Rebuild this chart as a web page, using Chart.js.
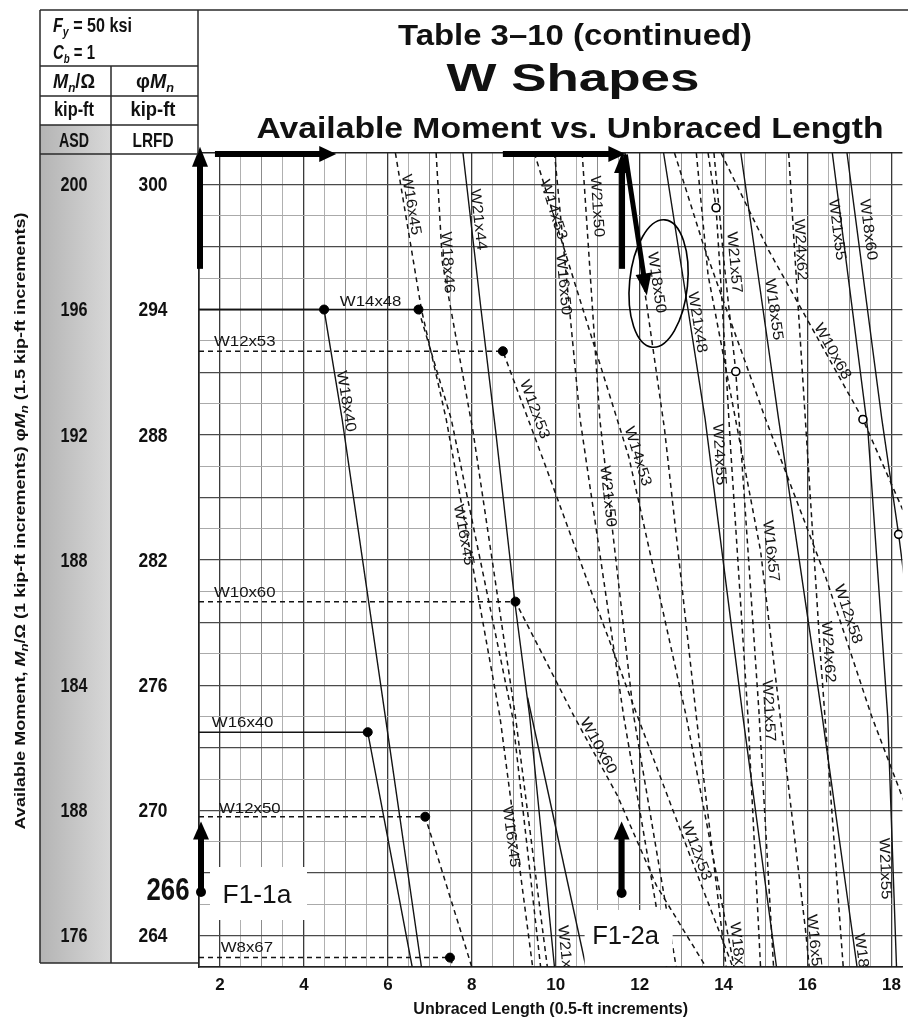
<!DOCTYPE html>
<html>
<head>
<meta charset="utf-8">
<script src="https://cdn.jsdelivr.net/npm/chart.js@4.4.1/dist/chart.umd.min.js"></script>
<style>
  html, body { margin: 0; padding: 0; background: #fff; }
  canvas { display: block; }
</style>
</head>
<body>
<canvas id="c" width="908" height="1021"></canvas>
<script>
// unbraced length (ft) vs available moment Mn/Omega (ASD, kip-ft)
const W18x40 = [[1.5,196],[4.48,196],[4.91,192.5],[5.95,182.9],[6.8,175]];
const W14x48 = [[1.5,196],[6.73,196],[7.51,192.5],[8.97,183],[9.64,175]];
const W16x45 = [[6.18,201],[6.8,196],[7.39,192.5],[8.67,183],[9.45,175]];
const W18x46 = [[7.15,201],[7.3,197.5],[8.03,192.1],[9.04,183],[9.8,175]];
const W21x44 = [[7.79,201],[8.22,196],[8.57,192.1],[9.04,186.5],[9.38,183],[9.97,175]];
const W21x44b = [[9.33,183.6],[10.72,175]];
const W16x40 = [[1.5,182.5],[5.52,182.5],[6.58,175]];
const W12x50 = [[1.5,179.8],[6.89,179.8],[8.0,175]];
const W8x67 = [[1.5,175.3],[7.48,175.3],[7.56,175]];
const W12x53 = [[1.5,194.67],[8.74,194.67],[9.73,191.1],[10.98,186.5],[11.95,183],[13.16,178.7],[14.22,175]];
const W10x60 = [[1.5,186.67],[9.04,186.67],[10.44,183],[11.46,180.5],[12.4,177.6],[13.58,175]];
const W14x53 = [[9.49,201],[11.74,191.3],[13.11,183],[14.25,175]];
const W16x50 = [[9.97,201],[10.58,192.5],[11.62,183],[12.64,175]];
const W21x50 = [[10.63,201],[11.05,192.5],[11.86,183],[12.87,175]];
const W18x50 = [[11.65,201],[12.59,192.2],[13.35,183],[14.06,175]];
const W21x48 = [[12.57,201],[13.56,192.5],[14.46,183],[15.26,175]];
const W12x58 = [[12.83,201],[13.51,198.1],[15.0,192.5],[16.42,187.5],[17.53,183],[18.55,179.4]];
const W16x57 = [[13.35,201],[13.63,197.1],[14.88,188.3],[15.95,176.2],[16.04,175]];
const W24x55 = [[13.63,201],[13.82,199.25],[13.96,196.3],[14.17,191.5],[14.58,183],[14.88,175]];
const W21x57 = [[13.77,201],[14.01,197.5],[14.29,194.02],[14.84,183.2],[15.19,175]];
const W10x68 = [[13.94,201],[15.07,197.9],[17.32,192.49],[18.27,189.6]];
const W18x55 = [[14.41,201],[15.31,192.5],[16.35,183],[17.18,175]];
const W24x62 = [[15.55,201],[15.69,197.9],[16.3,185.1],[16.85,175]];
const W21x55 = [[16.59,201],[17.44,192.1],[17.91,183],[18.12,175]];
const W18x60 = [[16.94,201],[17.77,192.5],[18.17,188.82],[18.43,186.1]];

const lpDots = [[4.48,196],[6.73,196],[8.74,194.67],[9.04,186.67],[5.52,182.5],[6.89,179.8],[7.48,175.3]];
const lrCircles = [[13.82,199.25],[14.29,194.02],[17.32,192.49],[18.17,188.82]];

const asdTickVals = [176,180,184,188,192,196,200];
const asdTickText = ['176','188','184','188','192','196','200'];
const lrfdTickText = ['264','270','276','282','288','294','300'];

// 266 kip-ft LRFD = 177.33 ASD, pointing to the 270 line
const markerY = 177.33;
const markerTipY = 179.65;
const markerX1 = 1.5;
const markerX2 = 11.57;

// solid / dashed / solid plateau with dashed slope
const lineDefs = [
  [W18x40,'solid'],[W14x48,'slope'],[W16x45,'dash'],[W18x46,'dash'],[W21x44,'solid'],[W21x44b,'solid'],
  [W16x40,'solid'],[W12x50,'dash'],[W8x67,'dash'],[W12x53,'dash'],[W10x60,'dash'],[W14x53,'dash'],
  [W16x50,'dash'],[W21x50,'dash'],[W18x50,'dash'],[W21x48,'solid'],[W12x58,'dash'],[W16x57,'dash'],
  [W24x55,'dash'],[W21x57,'dash'],[W10x68,'dash'],[W18x55,'solid'],[W24x62,'dash'],[W21x55,'solid'],[W18x60,'solid']
];

const lineLabels = [
  ['W14x48',5.59,196.26,null],['W12x53',2.59,194.96,null],['W10x60',2.59,186.96,null],
  ['W16x40',2.54,182.8,null],['W12x50',2.71,180.06,null],['W8x67',2.64,175.6,null],
  ['W18x40',5.0,193.07,W18x40],['W16x45',6.55,199.35,W16x45],['W16x45',7.8,188.8,W16x45],['W16x45',8.93,179.16,W16x45],
  ['W18x46',7.42,197.5,W18x46],['W21x44',8.15,198.87,W21x44],['W21x44',10.23,175.35,W21x44],
  ['W14x53',9.94,199.19,W14x53],['W14x53',11.95,191.31,W14x53],['W21x50',10.98,199.29,W21x50],['W21x50',11.24,190.03,W21x50],
  ['W16x50',10.18,196.8,W16x50],['W12x53',9.49,192.81,W12x53],['W12x53',13.35,178.71,W12x53],['W10x60',11.01,182.06,W10x60],
  ['W18x50',12.4,196.86,W18x50],['W18x50',14.34,175.45,W18x50],['W21x48',13.37,195.59,W21x48],['W24x55',13.89,191.37,W24x55],
  ['W21x57',14.25,197.5,W21x57],['W21x57',15.07,183.18,W21x57],['W18x55',15.19,196.0,W18x55],['W18x55',17.32,175.1,W18x55],
  ['W24x62',15.83,197.91,W24x62],['W24x62',16.49,185.06,W24x62],['W21x55',16.7,198.55,W21x55],['W21x55',17.84,178.14,W21x55],
  ['W18x60',17.44,198.55,W18x60],['W10x68',16.59,194.66,W10x68],['W16x57',15.12,188.28,W16x57],['W16x57',16.16,175.7,W16x57],
  ['W12x58',16.96,186.27,W12x58]
];

const SANS = '"Liberation Sans", Arial, Helvetica, sans-serif';
const INK = '#111';

function toXY(arr) { return arr.map(function (p) { return { x: p[0], y: p[1] }; }); }

const datasets = [];
datasets.push({ data: toXY(lpDots), pointRadius: 4.5, pointBackgroundColor: '#000', pointBorderColor: '#000', showLine: false, order: -2 });
datasets.push({ data: toXY(lrCircles), pointRadius: 4, pointBackgroundColor: '#fff', pointBorderColor: '#000', pointBorderWidth: 1.6, showLine: false, order: -2 });
lineDefs.forEach(function (d) {
  const style = d[1];
  datasets.push({
    data: toXY(d[0]),
    showLine: true,
    pointRadius: 0,
    borderColor: '#141414',
    borderWidth: style === 'solid' ? 1.4 : 1.5,
    fill: false,
    tension: 0,
    order: 0,
    segment: {
      borderDash: function (c) {
        if (style === 'dash') return [5, 4];
        if (style === 'slope' && c.p0.parsed.y !== c.p1.parsed.y) return [5, 4];
        return undefined;
      }
    }
  });
});

function fitText(ctx, s, cx, cy, font, w) {
  ctx.save();
  ctx.font = font; ctx.textAlign = 'center'; ctx.textBaseline = 'middle'; ctx.fillStyle = INK;
  const m = ctx.measureText(s).width;
  ctx.translate(cx, cy); ctx.scale(w ? w / m : 1, 1);
  ctx.fillText(s, 0, 0);
  ctx.restore();
}

function drawRich(ctx, parts, x, y, opt) {
  ctx.save();
  ctx.fillStyle = INK; ctx.textBaseline = 'alphabetic'; ctx.textAlign = 'left';
  let w = 0;
  parts.forEach(function (p) { ctx.font = p.f; p.w = ctx.measureText(p.t).width; w += p.w; });
  const k = opt.width ? opt.width / w : 1;
  ctx.translate(x, y);
  if (opt.rot) ctx.rotate(opt.rot);
  ctx.scale(k, 1);
  let cx = opt.align === 'center' ? -w / 2 : 0;
  parts.forEach(function (p) { ctx.font = p.f; ctx.fillText(p.t, cx, p.dy || 0); cx += p.w; });
  ctx.restore();
}

function arrow(ctx, x0, y0, x1, y1, w, hl, hw) {
  const a = Math.atan2(y1 - y0, x1 - x0);
  const len = Math.hypot(x1 - x0, y1 - y0);
  ctx.save();
  ctx.translate(x0, y0); ctx.rotate(a);
  ctx.fillStyle = '#000';
  ctx.fillRect(0, -w / 2, len - hl + 1, w);
  ctx.beginPath();
  ctx.moveTo(len, 0); ctx.lineTo(len - hl, -hw); ctx.lineTo(len - hl, hw); ctx.closePath();
  ctx.fill();
  ctx.restore();
}

function angleOn(pts, yv, xs, ys) {
  let last = 0;
  for (let i = 0; i < pts.length - 1; i++) {
    const a = pts[i], b = pts[i + 1];
    if (a[1] === b[1]) continue;
    last = Math.atan2(ys.getPixelForValue(b[1]) - ys.getPixelForValue(a[1]), xs.getPixelForValue(b[0]) - xs.getPixelForValue(a[0]));
    if (yv <= Math.max(a[1], b[1]) + 0.01 && yv >= Math.min(a[1], b[1]) - 0.01) return last;
  }
  return last;
}

const decor = {
  id: 'decor',
  beforeDraw: function (chart) {
    const ctx = chart.ctx;
    ctx.save();
    ctx.fillStyle = '#fff';
    ctx.fillRect(0, 0, chart.width, chart.height);
    const g = ctx.createLinearGradient(40, 0, 111, 0);
    g.addColorStop(0, '#b4b4b4');
    g.addColorStop(1, '#d8d8d8');
    ctx.fillStyle = g;
    ctx.fillRect(40, 125, 71, 838);
    ctx.restore();
  },
  afterDatasetsDraw: function (chart) {
    const ctx = chart.ctx, xs = chart.scales.x, ys = chart.scales.y, area = chart.chartArea;
    // curve labels
    ctx.save();
    ctx.beginPath(); ctx.rect(area.left, area.top, area.right - area.left, area.bottom - area.top); ctx.clip();
    ctx.fillStyle = '#151515';
    ctx.font = '15px ' + SANS; ctx.textAlign = 'center'; ctx.textBaseline = 'middle';
    lineLabels.forEach(function (l) {
      const px = xs.getPixelForValue(l[1]), py = ys.getPixelForValue(l[2]);
      const ang = l[3] ? angleOn(l[3], l[2], xs, ys) : 0;
      ctx.save(); ctx.translate(px, py); ctx.rotate(ang); ctx.scale(1.12, 1);
      ctx.fillText(l[0], 0, 0);
      ctx.restore();
    });
    ctx.restore();

    // hand-drawn markings
    const xl = xs.getPixelForValue(markerX1);
    const top = ys.getPixelForValue(201);
    arrow(ctx, xl + 1, ys.getPixelForValue(197.3), xl + 1, ys.getPixelForValue(201.2), 6, 20, 8);
    arrow(ctx, xs.getPixelForValue(1.88), top + 1, xs.getPixelForValue(4.77), top + 1, 6, 17, 8);
    arrow(ctx, xs.getPixelForValue(8.74), top + 1, xs.getPixelForValue(11.66), top + 1, 6, 17, 8);
    arrow(ctx, xs.getPixelForValue(11.58), ys.getPixelForValue(197.3), xs.getPixelForValue(11.58), top, 6, 20, 8);
    arrow(ctx, xs.getPixelForValue(11.66), ys.getPixelForValue(200.95), xs.getPixelForValue(12.17), ys.getPixelForValue(196.45), 5, 22, 8);
    ctx.save();
    ctx.strokeStyle = '#000'; ctx.lineWidth = 1.6;
    ctx.beginPath();
    ctx.ellipse(xs.getPixelForValue(12.45), ys.getPixelForValue(196.83), 29, 64, 0.1, 0, Math.PI * 2);
    ctx.stroke();
    ctx.restore();

    // F1-1a / F1-2a
    const y0 = ys.getPixelForValue(markerY), y1 = ys.getPixelForValue(markerTipY);
    const x2 = xs.getPixelForValue(markerX2);
    ctx.save();
    ctx.fillStyle = '#fff';
    ctx.fillRect(210, 867, 97, 53);
    ctx.fillRect(x2 - 37, 910, 88, 56);
    ctx.fillStyle = '#000';
    ctx.beginPath(); ctx.arc(xl + 2, y0 - 2, 5, 0, Math.PI * 2); ctx.fill();
    ctx.beginPath(); ctx.arc(x2, y0 - 1, 5, 0, Math.PI * 2); ctx.fill();
    ctx.restore();
    arrow(ctx, xl + 2, y0 - 2, xl + 2, y1, 6, 18, 8);
    arrow(ctx, x2, y0 - 1, x2, y1, 6, 18, 8);
    fitText(ctx, 'F1-1a', 257, 896, '26px ' + SANS, 69);
    fitText(ctx, 'F1-2a', x2 + 4, 937, '26px ' + SANS, 67);
    fitText(ctx, '266', 168, y0 - 3, 'bold 32px ' + SANS, 43);
  },
  afterDraw: function (chart) {
    const ctx = chart.ctx, ys = chart.scales.y;
    ctx.save();
    ctx.strokeStyle = '#2a2a2a'; ctx.lineWidth = 1.5;
    ctx.beginPath();
    ctx.moveTo(40, 10); ctx.lineTo(908, 10);
    ctx.moveTo(40, 10); ctx.lineTo(40, 963);
    ctx.moveTo(198, 10); ctx.lineTo(198, 153);
    [66, 96, 125, 154].forEach(function (y) { ctx.moveTo(40, y); ctx.lineTo(198, y); });
    ctx.moveTo(111, 66); ctx.lineTo(111, 963);
    ctx.moveTo(40, 963); ctx.lineTo(198, 963);
    ctx.stroke();
    ctx.restore();

    const B = 'bold ';
    const BI = 'bold italic ';
    drawRich(ctx, [
      { t: 'F', f: BI + '20px ' + SANS }, { t: 'y', f: BI + '13px ' + SANS, dy: 4 },
      { t: ' = 50 ksi', f: B + '20px ' + SANS }
    ], 53, 32, { width: 79 });
    drawRich(ctx, [
      { t: 'C', f: BI + '20px ' + SANS }, { t: 'b', f: BI + '13px ' + SANS, dy: 4 },
      { t: ' = 1', f: B + '20px ' + SANS }
    ], 53, 59, { width: 42 });
    drawRich(ctx, [
      { t: 'M', f: BI + '20px ' + SANS }, { t: 'n', f: BI + '13px ' + SANS, dy: 4 },
      { t: '/\u03A9', f: B + '20px ' + SANS }
    ], 74, 88, { width: 42, align: 'center' });
    drawRich(ctx, [
      { t: '\u03C6', f: B + '20px ' + SANS }, { t: 'M', f: BI + '20px ' + SANS },
      { t: 'n', f: BI + '13px ' + SANS, dy: 4 }
    ], 155, 88, { width: 38, align: 'center' });
    fitText(ctx, 'kip-ft', 74, 110, B + '20px ' + SANS, 40);
    fitText(ctx, 'kip-ft', 153, 110, B + '20px ' + SANS, 45);
    fitText(ctx, 'ASD', 74, 141, B + '20px ' + SANS, 30);
    fitText(ctx, 'LRFD', 153, 141, B + '20px ' + SANS, 41);

    asdTickVals.forEach(function (v, i) {
      const py = ys.getPixelForValue(v);
      fitText(ctx, asdTickText[i], 74, py + 1, B + '21px ' + SANS, 27);
      fitText(ctx, lrfdTickText[i], 153, py + 1, B + '21px ' + SANS, 29);
    });

    fitText(ctx, 'Table 3\u201310 (continued)', 575, 37, B + '30px ' + SANS, 354);
    fitText(ctx, 'W Shapes', 573, 80, B + '39px ' + SANS, 253);
    fitText(ctx, 'Available Moment vs. Unbraced Length', 570, 130, B + '30px ' + SANS, 627);

    drawRich(ctx, [
      { t: 'Available Moment, ', f: B + '15px ' + SANS },
      { t: 'M', f: BI + '15px ' + SANS }, { t: 'n', f: BI + '11px ' + SANS, dy: 3 },
      { t: '/\u03A9 (1 kip-ft increments) ', f: B + '15px ' + SANS },
      { t: '\u03C6', f: B + '15px ' + SANS }, { t: 'M', f: BI + '15px ' + SANS },
      { t: 'n', f: BI + '11px ' + SANS, dy: 3 },
      { t: ' (1.5 kip-ft increments)', f: B + '15px ' + SANS }
    ], 25, 521, { width: 617, align: 'center', rot: -Math.PI / 2 });
  }
};

function isMult(v, m) { return Math.abs(v / m - Math.round(v / m)) < 1e-6; }

new Chart(document.getElementById('c'), {
  type: 'scatter',
  data: { datasets: datasets },
  options: {
    responsive: false,
    animation: false,
    devicePixelRatio: 1,
    events: [],
    layout: { padding: { left: 199, top: 153, right: 0, bottom: 0 } },
    plugins: { legend: { display: false }, tooltip: { enabled: false } },
    scales: {
      x: {
        type: 'linear', min: 1.5, max: 18.26,
        ticks: {
          stepSize: 0.5, autoSkip: false, maxRotation: 0, includeBounds: false, padding: 8,
          color: INK, font: { family: SANS, size: 17, weight: 'bold' },
          callback: function (v) { return isMult(v, 2) ? String(Math.round(v)) : ''; }
        },
        grid: {
          drawTicks: false,
          color: function (c) { const v = c.tick.value; return isMult(v, 2) ? '#3a3a3a' : (isMult(v, 1) ? '#8c8c8c' : '#b0b0b0'); },
          lineWidth: function (c) { return isMult(c.tick.value, 2) ? 1.3 : 1; }
        },
        border: { display: true, color: '#222', width: 1.6 },
        title: { display: true, text: 'Unbraced Length (0.5-ft increments)', color: INK, font: { family: SANS, size: 16, weight: 'bold' }, padding: { top: 0, bottom: 2 } },
        afterFit: function (s) { s.height = 54; s.paddingLeft = 0; s.paddingRight = 0; }
      },
      y: {
        type: 'linear', min: 175, max: 201,
        ticks: { stepSize: 1, display: false },
        grid: {
          drawTicks: false,
          color: function (c) { const v = c.tick.value; return (v === 201) ? '#222' : (isMult(v, 2) ? '#4a4a4a' : '#aaaaaa'); },
          lineWidth: function (c) { const v = c.tick.value; return v === 201 ? 1.6 : (isMult(v, 2) ? 1.2 : 1); }
        },
        border: { display: true, color: '#222', width: 1.6 },
        afterFit: function (s) { s.width = 0; }
      }
    }
  },
  plugins: [decor]
});
</script>
</body>
</html>
